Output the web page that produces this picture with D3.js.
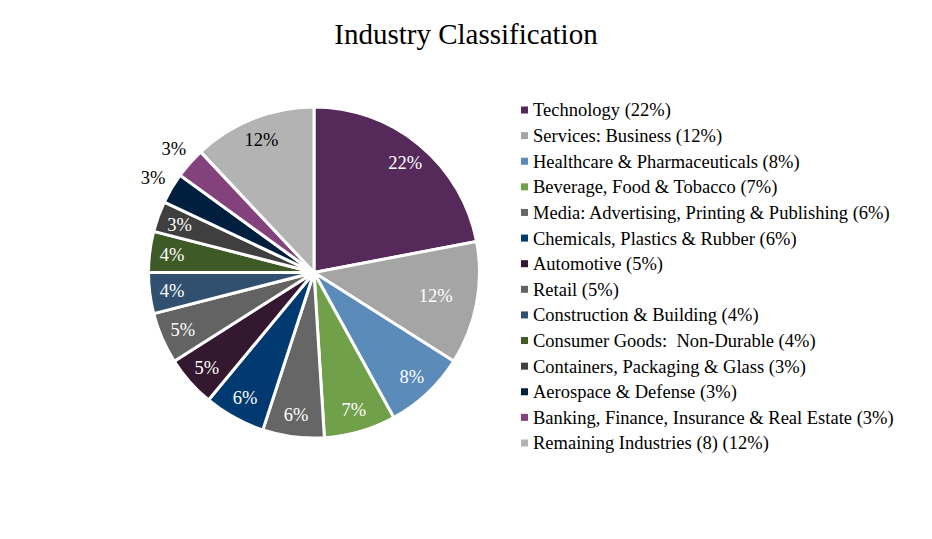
<!DOCTYPE html>
<html><head><meta charset="utf-8">
<script src="https://cdn.jsdelivr.net/npm/d3@7"></script>
<style>body{margin:0;background:#fff;} svg{display:block;}</style>
</head><body>
<svg id="c" width="932" height="539"></svg>
<script>
const categories = ["Technology","Services: Business","Healthcare & Pharmaceuticals","Beverage, Food & Tobacco","Media: Advertising, Printing & Publishing","Chemicals, Plastics & Rubber","Automotive","Retail","Construction & Building","Consumer Goods:  Non-Durable","Containers, Packaging & Glass","Aerospace & Defense","Banking, Finance, Insurance & Real Estate","Remaining Industries (8)"];
const values = [22,12,8,7,6,6,5,5,4,4,3,3,3,12];
const colors = ["#55295a","#a5a5a5","#5b8bb9","#70a04a","#666666","#003a70","#33182f","#636363","#31506f","#3e5b27","#3f3f3f","#001f3f","#84427d","#b3b3b3"];
const labelColors = ["#fff","#fff","#fff","#fff","#fff","#fff","#fff","#fff","#fff","#fff","#fff","#000","#000","#000"];
const outside = [false,false,false,false,false,false,false,false,false,false,false,true,true,false];

const svg = d3.select("#c");
const cx = 314, cy = 272.5, R = 165.5;
const FONT = "'Liberation Serif','Times New Roman',serif";

svg.append("text").attr("x",466).attr("y",44).attr("text-anchor","middle")
  .style("font-family",FONT).style("font-size","29px").attr("fill","#000")
  .text("Industry Classification");

const pie = d3.pie().value(d=>d).sort(null);
const arcs = pie(values);
const arc = d3.arc().innerRadius(0).outerRadius(R);
const g = svg.append("g").attr("transform",`translate(${cx},${cy})`);
g.selectAll("path").data(arcs).join("path")
  .attr("d",arc).attr("fill",(d,i)=>colors[i])
  .attr("stroke","#fff").attr("stroke-width",3).attr("stroke-linejoin","round");

const inArc = d3.arc().innerRadius(143).outerRadius(143);
const svcArc = d3.arc().innerRadius(124).outerRadius(124);
const outArc = d3.arc().innerRadius(187).outerRadius(187);
g.selectAll("text.lbl").data(arcs).join("text").attr("class","lbl")
  .attr("transform",(d,i)=>{
    const a = outside[i] ? outArc : (i===1 ? svcArc : inArc);
    const c = a.centroid(d);
    return `translate(${c[0]},${c[1]})`;
  })
  .attr("text-anchor","middle").attr("dy","0.35em")
  .style("font-family",FONT).style("font-size","18.5px")
  .attr("fill",(d,i)=>labelColors[i])
  .text(d=>d.data+"%");

const ly = d3.scalePoint().domain(d3.range(categories.length)).range([110,443]);
const leg = svg.append("g");
const items = leg.selectAll("g").data(categories).join("g")
  .attr("transform",(d,i)=>`translate(521,${ly(i)})`);
items.append("rect").attr("x",0).attr("y",-3.5).attr("width",7).attr("height",7)
  .attr("fill",(d,i)=>colors[i]);
items.append("text").attr("x",12).attr("dy","0.35em")
  .style("font-family",FONT).style("font-size","18.5px").attr("fill","#000")
  .style("white-space","pre")
  .text((d,i)=>`${d} (${values[i]}%)`);
</script>
</body></html>
